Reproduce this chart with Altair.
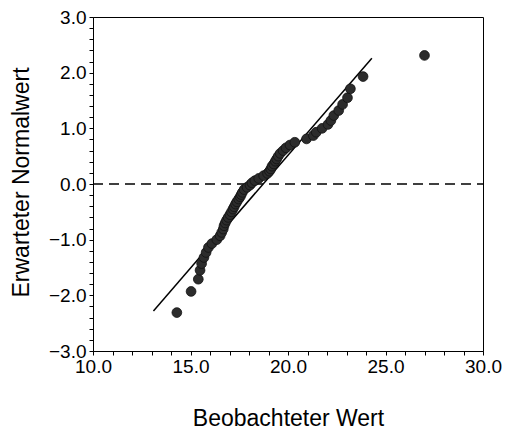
import altair as alt
import pandas as pd

observed = [14.3, 15.03, 15.40, 15.49, 15.57, 15.69, 15.80, 15.92, 16.1, 16.35,
            16.52, 16.6, 16.68, 16.72, 16.78, 16.85, 16.93, 17.02, 17.10, 17.18,
            17.24, 17.31, 17.38, 17.47, 17.55, 17.6, 17.66, 17.75, 17.9, 18.05,
            18.15, 18.3, 18.5, 18.75, 18.95, 19.05, 19.12, 19.18, 19.27, 19.35,
            19.42, 19.5, 19.6, 19.75, 19.9, 20.1, 20.35, 20.95, 21.3, 21.45,
            21.75, 22.05, 22.2, 22.35, 22.6, 22.8, 23.05, 23.2, 23.85, 27.0]
expected = [-2.31, -1.93, -1.71, -1.55, -1.43, -1.32, -1.23, -1.14, -1.07, -1.00,
            -0.93, -0.87, -0.81, -0.75, -0.70, -0.65, -0.60, -0.55, -0.50, -0.45,
            -0.41, -0.36, -0.32, -0.27, -0.23, -0.19, -0.15, -0.10, -0.06, -0.02,
            0.02, 0.06, 0.10, 0.15, 0.19, 0.23, 0.27, 0.32, 0.36, 0.41,
            0.45, 0.50, 0.55, 0.60, 0.65, 0.70, 0.75, 0.81, 0.87, 0.93,
            1.00, 1.07, 1.14, 1.23, 1.32, 1.43, 1.55, 1.71, 1.93, 2.31]

# Reference line end points
line_x = [13.1, 24.3]
line_z = [-2.28, 2.26]

x_ticks = [10, 11, 12, 13, 14, 15, 16, 17, 18, 19, 20, 21, 22, 23, 24, 25, 26, 27, 28, 29, 30]
y_ticks = [-3.0, -2.8, -2.6, -2.4, -2.2, -2.0, -1.8, -1.6, -1.4, -1.2, -1.0,
           -0.8, -0.6, -0.4, -0.2, 0.0, 0.2, 0.4, 0.6, 0.8, 1.0,
           1.2, 1.4, 1.6, 1.8, 2.0, 2.2, 2.4, 2.6, 2.8, 3.0]

pts = pd.DataFrame({"x": observed, "z": expected})
ref = pd.DataFrame({"x": line_x, "z": line_z})
zero = pd.DataFrame({"x": [10.0, 30.0], "z": [0.0, 0.0]})

FONT = "Liberation Sans"

xscale = alt.Scale(domain=[10, 30], nice=False, zero=False)
yscale = alt.Scale(domain=[-3, 3], nice=False, zero=False)

xaxis = alt.Axis(
    title="Beobachteter Wert", values=x_ticks,
    labelExpr="datum.value % 5 == 0 ? format(datum.value, '.1f') : ''",
    labelOverlap=False, labelBound=False, labelFlush=False,
    grid=False, tickSize=4, tickColor="black", tickWidth=1, domainColor="black",
    labelFont=FONT, labelFontSize=19, labelColor="black", labelPadding=2,
    titleFont=FONT, titleFontSize=23, titleFontWeight="normal", titleColor="black",
    titleY=74, titleBaseline="alphabetic",
)
yaxis = alt.Axis(
    title="Erwarteter Normalwert", values=y_ticks,
    labelExpr="abs(datum.value - round(datum.value)) < 0.01 ? format(datum.value, '.1f') : ''",
    labelOverlap=False, labelBound=False, labelFlush=False,
    grid=False, tickSize=4, tickColor="black", tickWidth=1, domainColor="black",
    labelFont=FONT, labelFontSize=19, labelColor="black", labelPadding=3,
    titleFont=FONT, titleFontSize=23, titleFontWeight="normal", titleColor="black",
    titleX=-65, titleY=165, titleBaseline="alphabetic", titleAngle=-90,
)

X = alt.X("x:Q", scale=xscale, axis=xaxis)
Y = alt.Y("z:Q", scale=yscale, axis=yaxis)

points = alt.Chart(pts).mark_point(
    filled=True, shape="circle", size=95, fill="#2c2c2c", stroke="#111111",
    strokeWidth=0.8, opacity=1
).encode(x=X, y=Y)

refline = alt.Chart(ref).mark_line(color="black", strokeWidth=1.5).encode(x=X, y=Y)

zeroline = alt.Chart(zero).mark_line(color="#000000", strokeWidth=1.3, strokeDash=[10, 6]).encode(x=X, y=Y)

chart = alt.layer(zeroline, refline, points).properties(
    width=390, height=334,
    autosize=alt.AutoSizeParams(type="none"),
    padding={"left": 93, "top": 17, "right": 34, "bottom": 79},
    background="white",
).configure_view(stroke="black", strokeWidth=1)

chart.save("out.html", embed_options={"renderer": "svg", "actions": False})
